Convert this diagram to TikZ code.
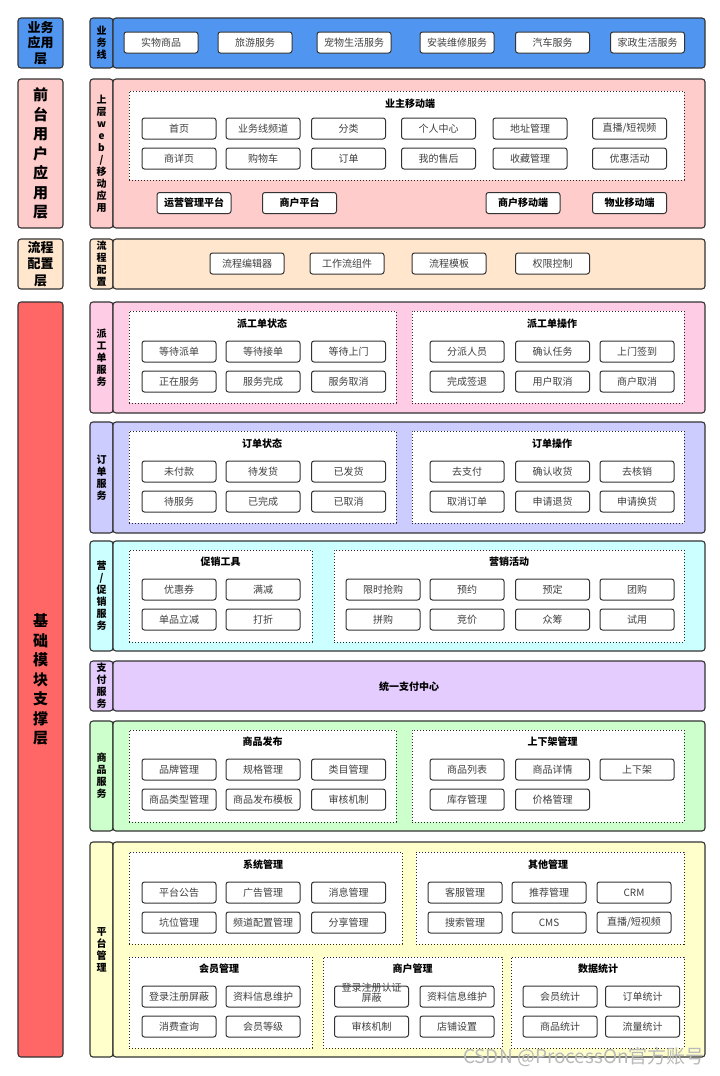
\documentclass[tikz,border=0pt]{standalone}
\usepackage{fontspec}
\setmainfont{Noto Sans CJK SC}
\definecolor{bizblue}{HTML}{5096F0}
\definecolor{frontpink}{HTML}{FFCCCC}
\definecolor{flowpeach}{HTML}{FFE6CC}
\definecolor{basered}{HTML}{FF6666}
\definecolor{dsppink}{HTML}{FFCCE6}
\definecolor{ordblue}{HTML}{CCCCFF}
\definecolor{mktcyan}{HTML}{CCFFFF}
\definecolor{paypurple}{HTML}{E5CCFF}
\definecolor{gdsgreen}{HTML}{CCFFCC}
\definecolor{platyellow}{HTML}{FFFFCC}
\begin{document}
\begin{tikzpicture}[x=1pt,y=-1pt,
layerbox/.style={draw=black!80,line width=1.1pt,rounded corners=3pt,minimum width=45pt,inner sep=0pt,align=center,font=\bfseries\fontsize{15}{19.5}\selectfont},
tagbox/.style={draw=black!80,line width=1.1pt,rounded corners=3pt,minimum width=23pt,inner sep=0pt,align=center,font=\bfseries\fontsize{10}{12}\selectfont},
panel/.style={draw=black!80,line width=1.1pt,rounded corners=3pt,minimum width=592pt,inner sep=0pt},
group/.style={draw=black!85,line width=0.9pt,dash pattern=on 1.2pt off 1.8pt,fill=white,inner sep=0pt},
grouptitle/.style={font=\bfseries\fontsize{10}{12}\selectfont},
item/.style={draw=black!80,line width=1pt,fill=white,rounded corners=2.5pt,minimum width=74pt,minimum height=21pt,inner sep=0pt,text=black!75,font=\fontsize{10}{12}\selectfont}]
\useasboundingbox[fill=white](0,0) rectangle (720,1076);
\node[layerbox,fill=bizblue,minimum height=50pt,font=\bfseries\fontsize{13}{15.5}\selectfont](lBiz) at (40.5,43){业务\\应用\\层};
\node[layerbox,fill=frontpink,minimum height=149pt](lFront) at (40.5,153.5){前\\台\\用\\户\\应\\用\\层};
\node[layerbox,fill=flowpeach,minimum height=50pt,font=\bfseries\fontsize{13}{16.5}\selectfont](lFlow) at (40.5,264){流程\\配置\\层};
\node[layerbox,fill=basered,minimum height=755pt](lBase) at (40.5,679.5){基\\础\\模\\块\\支\\撑\\层};
\node[tagbox,fill=bizblue,minimum height=50pt](tBiz) at (101.5,43){业\\务\\线};
\node[panel,fill=bizblue,minimum height=50pt](pBiz) at (409,43){};
\node[tagbox,fill=frontpink,minimum height=149pt](tFront) at (101.5,153.5){上\\层\\w\\e\\b\\/\\移\\动\\应\\用};
\node[panel,fill=frontpink,minimum height=149pt](pFront) at (409,153.5){};
\node[tagbox,fill=flowpeach,minimum height=50pt](tFlow) at (101.5,264){流\\程\\配\\置};
\node[panel,fill=flowpeach,minimum height=50pt](pFlow) at (409,264){};
\node[tagbox,fill=dsppink,minimum height=111pt](tDsp) at (101.5,357.5){派\\工\\单\\服\\务};
\node[panel,fill=dsppink,minimum height=111pt](pDsp) at (409,357.5){};
\node[tagbox,fill=ordblue,minimum height=111pt](tOrd) at (101.5,477.5){订\\单\\服\\务};
\node[panel,fill=ordblue,minimum height=111pt](pOrd) at (409,477.5){};
\node[tagbox,fill=mktcyan,minimum height=110pt](tMkt) at (101.5,596){营\\/\\促\\销\\服\\务};
\node[panel,fill=mktcyan,minimum height=110pt](pMkt) at (409,596){};
\node[tagbox,fill=paypurple,minimum height=50pt](tPay) at (101.5,686){支\\付\\服\\务};
\node[panel,fill=paypurple,minimum height=50pt](pPay) at (409,686){};
\node[tagbox,fill=gdsgreen,minimum height=110pt](tGds) at (101.5,776){商\\品\\服\\务};
\node[panel,fill=gdsgreen,minimum height=110pt](pGds) at (409,776){};
\node[tagbox,fill=platyellow,minimum height=215pt](tPlat) at (101.5,949.5){平\\台\\管\\理};
\node[panel,fill=platyellow,minimum height=215pt](pPlat) at (409,949.5){};
\node[item](biz1) at (161,42.5){实物商品};
\node[item](biz2) at (255,42.5){旅游服务};
\node[item](biz3) at (354,42.5){宠物生活服务};
\node[item](biz4) at (457,42.5){安装维修服务};
\node[item](biz5) at (552.5,42.5){汽车服务};
\node[item](biz6) at (647.5,42.5){家政生活服务};
\node[group,minimum width=555pt,minimum height=89pt](gOwner) at (406.5,135.5){};
\node[grouptitle](gOwnerT) at (410,104){业主移动端};
\node[item](own1) at (179,128.5){首页};
\node[item](own2) at (263,128.5){业务线频道};
\node[item](own3) at (348.5,128.5){分类};
\node[item](own4) at (438.5,128.5){个人中心};
\node[item](own5) at (530,128.5){地址管理};
\node[item](own6) at (629.5,128.5){直播/短视频};
\node[item](own7) at (179,158.5){商详页};
\node[item](own8) at (263,158.5){购物车};
\node[item](own9) at (348.5,158.5){订单};
\node[item](own10) at (438.5,158.5){我的售后};
\node[item](own11) at (530,158.5){收藏管理};
\node[item](own12) at (629.5,158.5){优惠活动};
\node[item,text=black,font=\bfseries\fontsize{10}{12}\selectfont](app1) at (194,203){运营管理平台};
\node[item,text=black,font=\bfseries\fontsize{10}{12}\selectfont](app2) at (299.5,203){商户平台};
\node[item,text=black,font=\bfseries\fontsize{10}{12}\selectfont](app3) at (523,203){商户移动端};
\node[item,text=black,font=\bfseries\fontsize{10}{12}\selectfont](app4) at (629.5,203){物业移动端};
\node[item](flow1) at (247,263.5){流程编辑器};
\node[item](flow2) at (347,263.5){工作流组件};
\node[item](flow3) at (449,263.5){流程模板};
\node[item](flow4) at (552.5,263.5){权限控制};
\node[group,minimum width=267pt,minimum height=92pt](gDspState) at (262.5,357){};
\node[group,minimum width=272pt,minimum height=92pt](gDspOp) at (548,357){};
\node[grouptitle](gDspStateT) at (262,324){派工单状态};
\node[grouptitle](gDspOpT) at (552,324){派工单操作};
\node[item](dsp1) at (179,351.5){等待派单};
\node[item](dsp2) at (263,351.5){等待接单};
\node[item](dsp3) at (348.5,351.5){等待上门};
\node[item](dsp4) at (179,381.5){正在服务};
\node[item](dsp5) at (263,381.5){服务完成};
\node[item](dsp6) at (348.5,381.5){服务取消};
\node[item](dsp7) at (467,351.5){分派人员};
\node[item](dsp8) at (552.5,351.5){确认任务};
\node[item](dsp9) at (637,351.5){上门签到};
\node[item](dsp10) at (467,381.5){完成签退};
\node[item](dsp11) at (552.5,381.5){用户取消};
\node[item](dsp12) at (637,381.5){商户取消};
\node[group,minimum width=267pt,minimum height=92pt](gOrdState) at (262.5,477){};
\node[group,minimum width=272pt,minimum height=92pt](gOrdOp) at (548,477){};
\node[grouptitle](gOrdStateT) at (262,444){订单状态};
\node[grouptitle](gOrdOpT) at (552,444){订单操作};
\node[item](ord1) at (179,471.5){未付款};
\node[item](ord2) at (263,471.5){待发货};
\node[item](ord3) at (348.5,471.5){已发货};
\node[item](ord4) at (179,501.5){待服务};
\node[item](ord5) at (263,501.5){已完成};
\node[item](ord6) at (348.5,501.5){已取消};
\node[item](ord7) at (467,471.5){去支付};
\node[item](ord8) at (552.5,471.5){确认收货};
\node[item](ord9) at (637,471.5){去核销};
\node[item](ord10) at (467,501.5){取消订单};
\node[item](ord11) at (552.5,501.5){申请退货};
\node[item](ord12) at (637,501.5){申请换货};
\node[group,minimum width=183pt,minimum height=92pt](gPromo) at (220.5,596){};
\node[group,minimum width=350pt,minimum height=92pt](gMkt) at (509,596){};
\node[grouptitle](gPromoT) at (220.5,562){促销工具};
\node[grouptitle](gMktT) at (509,562){营销活动};
\node[item](pro1) at (179,589.5){优惠券};
\node[item](pro2) at (263,589.5){满减};
\node[item](pro3) at (179,619.5){单品立减};
\node[item](pro4) at (263,619.5){打折};
\node[item](mkt1) at (383,589.5){限时抢购};
\node[item](mkt2) at (467,589.5){预约};
\node[item](mkt3) at (552.5,589.5){预定};
\node[item](mkt4) at (637,589.5){团购};
\node[item](mkt5) at (383,619.5){拼购};
\node[item](mkt6) at (467,619.5){竞价};
\node[item](mkt7) at (552.5,619.5){众筹};
\node[item](mkt8) at (637,619.5){试用};
\node[grouptitle](pay) at (409,687){统一支付中心};
\node[group,minimum width=267pt,minimum height=92pt](gGdsPub) at (262.5,776){};
\node[group,minimum width=272pt,minimum height=92pt](gGdsShelf) at (548,776){};
\node[grouptitle](gGdsPubT) at (262.5,742){商品发布};
\node[grouptitle](gGdsShelfT) at (552.5,742){上下架管理};
\node[item](gds1) at (179,769.5){品牌管理};
\node[item](gds2) at (263,769.5){规格管理};
\node[item](gds3) at (348.5,769.5){类目管理};
\node[item](gds4) at (179,799.5){商品类型管理};
\node[item](gds5) at (263,799.5){商品发布模板};
\node[item](gds6) at (348.5,799.5){审核机制};
\node[item](gds7) at (467,769.5){商品列表};
\node[item](gds8) at (552.5,769.5){商品详情};
\node[item](gds9) at (637,769.5){上下架};
\node[item](gds10) at (467,799.5){库存管理};
\node[item](gds11) at (552.5,799.5){价格管理};
\node[group,minimum width=273pt,minimum height=92pt](gSys) at (265.5,898){};
\node[group,minimum width=268pt,minimum height=92pt](gOther) at (550,898){};
\node[grouptitle](gSysT) at (263,865){系统管理};
\node[grouptitle](gOtherT) at (548,865){其他管理};
\node[item](sys1) at (179,892.5){平台公告};
\node[item](sys2) at (263,892.5){广告管理};
\node[item](sys3) at (348.5,892.5){消息管理};
\node[item](sys4) at (179,922.5){坑位管理};
\node[item](sys5) at (263,922.5){频道配置管理};
\node[item](sys6) at (348.5,922.5){分享管理};
\node[item](oth1) at (465,892.5){客服管理};
\node[item](oth2) at (549,892.5){推荐管理};
\node[item](oth3) at (634,892.5){CRM};
\node[item](oth4) at (465,922.5){搜索管理};
\node[item](oth5) at (549,922.5){CMS};
\node[item](oth6) at (634,922.5){直播/短视频};
\node[group,minimum width=183pt,minimum height=91pt](gMem) at (220.5,1002.5){};
\node[group,minimum width=179pt,minimum height=91pt](gMer) at (412.5,1002.5){};
\node[group,minimum width=173pt,minimum height=91pt](gStat) at (597.5,1002.5){};
\node[grouptitle](gMemT) at (219,969){会员管理};
\node[grouptitle](gMerT) at (412.5,969){商户管理};
\node[grouptitle](gStatT) at (598,969){数据统计};
\node[item](mem1) at (179,996.5){登录注册屏蔽};
\node[item](mem2) at (263,996.5){资料信息维护};
\node[item](mem3) at (179,1026.5){消费查询};
\node[item](mem4) at (263,1026.5){会员等级};
\node[item](mer1) at (371.5,996.5){\smash{\begin{tabular}{@{}c@{}}登录注册认证\\[-1.5pt]屏蔽\end{tabular}}};
\node[item](mer2) at (457,996.5){资料信息维护};
\node[item](mer3) at (371.5,1026.5){审核机制};
\node[item](mer4) at (457,1026.5){店铺设置};
\node[item](sta1) at (560,996.5){会员统计};
\node[item](sta2) at (642.5,996.5){订单统计};
\node[item](sta3) at (560,1026.5){商品统计};
\node[item](sta4) at (642.5,1026.5){流量统计};
\node[text=gray!55,font=\fontsize{19}{22}\selectfont,inner sep=0pt](wm) at (584,1057){CSDN @ProcessOn官方账号};
\end{tikzpicture}
\end{document}
